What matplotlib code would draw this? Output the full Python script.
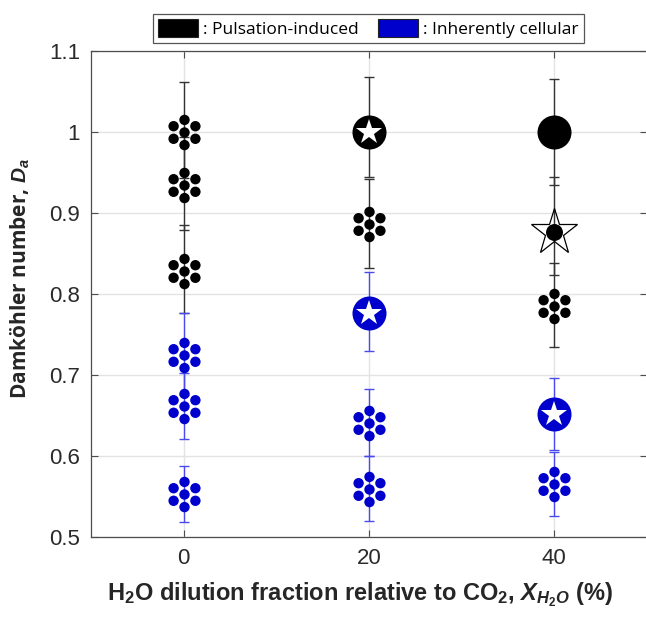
import numpy as np
import matplotlib
matplotlib.use("Agg")
import matplotlib.pyplot as plt
from matplotlib.path import Path
from matplotlib.patches import Patch

# ---------------- data ----------------
x_ticks = [0, 20, 40]
y_ticks = [0.5, 0.6, 0.7, 0.8, 0.9, 1.0, 1.1]
y_ticklabels = ["0.5", "0.6", "0.7", "0.8", "0.9", "1", "1.1"]

# Pulsation-induced (black) – cluster markers
puls_cl_x = [0, 0, 0, 20, 40]
puls_cl_y = [1.000, 0.934, 0.829, 0.887, 0.785]
puls_cl_lo = [0.057, 0.055, 0.053, 0.055, 0.051]
puls_cl_hi = [0.062, 0.060, 0.056, 0.055, 0.053]

# Pulsation-induced – filled circle with white star
puls_st_x = [20]
puls_st_y = [1.000]
puls_st_lo = [0.056]
puls_st_hi = [0.068]

# Pulsation-induced – large filled circle
puls_ci_x = [40]
puls_ci_y = [1.000]
puls_ci_lo = [0.066]
puls_ci_hi = [0.065]

# Pulsation-induced – open star with small filled circle
puls_os_x = [40]
puls_os_y = [0.877]
puls_os_lo = [0.053]
puls_os_hi = [0.067]

# Inherently cellular (blue) – cluster markers
cell_cl_x = [0, 0, 0, 20, 20, 40]
cell_cl_y = [0.725, 0.662, 0.553, 0.641, 0.559, 0.566]
cell_cl_lo = [0.050, 0.041, 0.034, 0.041, 0.039, 0.040]
cell_cl_hi = [0.051, 0.041, 0.035, 0.042, 0.041, 0.039]

# Inherently cellular – filled circle with white star
cell_st_x = [20, 40]
cell_st_y = [0.777, 0.652]
cell_st_lo = [0.047, 0.044]
cell_st_hi = [0.050, 0.044]

legend_labels = [": Pulsation-induced", ": Inherently cellular"]

# ---------------- style ----------------
BLACK = "#000000"
BLUE = "#0000CC"
EBLACK = "#333333"
EBLUE = "#4a4aee"

plt.rcParams["mathtext.fontset"] = "custom"
plt.rcParams["mathtext.it"] = "Liberation Sans:italic:bold"
plt.rcParams["mathtext.rm"] = "Liberation Sans:bold"
plt.rcParams["mathtext.bf"] = "Liberation Sans:bold"

# flower marker: centre dot + 6 dots around it
def flower_path():
    ring = 12.6
    rad = 5.2
    circles = [Path.circle((0, 0), rad)]
    for ang in np.deg2rad([90, 30, -30, -90, -150, 150]):
        circles.append(Path.circle((ring * np.cos(ang), ring * np.sin(ang)), rad))
    return Path.make_compound_path(*circles)

FLOWER = flower_path()
FLOWER_MS = 25.6

AX_L, AX_R = 91, 646.6
fig = plt.figure(figsize=(6.46, 6.22), dpi=100)
ax = fig.add_axes([AX_L / 646, 85 / 622, (AX_R - AX_L) / 646, (537 - 51) / 622])

ax.set_xlim(-10, 50)
ax.set_ylim(0.5, 1.1)
ax.set_xticks(x_ticks)
ax.set_xticklabels([str(v) for v in x_ticks])
ax.set_yticks(y_ticks)
ax.set_yticklabels(y_ticklabels)
ax.grid(True, color="#e3e3e3", linewidth=1.0, zorder=0)
ax.set_axisbelow(True)

for sp in ax.spines.values():
    sp.set_color("#4d4d4d")
    sp.set_linewidth(0.9)
ax.spines["right"].set_visible(False)
ax.tick_params(direction="in", length=5, width=0.8, color="#4d4d4d",
               top=True, right=True, labelsize=16, pad=8)
for lab in ax.get_xticklabels() + ax.get_yticklabels():
    lab.set_fontfamily("Liberation Sans")
    lab.set_color("#2a2a2a")

eb_kw = dict(fmt="none", elinewidth=1.0, capsize=3.6, capthick=1.0, zorder=2)

# error bars
ax.errorbar(puls_cl_x, puls_cl_y, yerr=[puls_cl_lo, puls_cl_hi], ecolor=EBLACK, **eb_kw)
ax.errorbar(puls_st_x, puls_st_y, yerr=[puls_st_lo, puls_st_hi], ecolor=EBLACK, **eb_kw)
ax.errorbar(puls_ci_x, puls_ci_y, yerr=[puls_ci_lo, puls_ci_hi], ecolor=EBLACK, **eb_kw)
ax.errorbar(puls_os_x, puls_os_y, yerr=[puls_os_lo, puls_os_hi], ecolor=EBLACK, **eb_kw)
ax.errorbar(cell_cl_x, cell_cl_y, yerr=[cell_cl_lo, cell_cl_hi], ecolor=EBLUE, **eb_kw)
ax.errorbar(cell_st_x, cell_st_y, yerr=[cell_st_lo, cell_st_hi], ecolor=EBLUE, **eb_kw)

# markers
ax.plot(puls_cl_x, puls_cl_y, linestyle="none", marker=FLOWER, markersize=FLOWER_MS,
        color=BLACK, markeredgewidth=0, zorder=3)
ax.plot(cell_cl_x, cell_cl_y, linestyle="none", marker=FLOWER, markersize=FLOWER_MS,
        color=BLUE, markeredgewidth=0, zorder=3)

ax.plot(puls_st_x, puls_st_y, linestyle="none", marker="o", markersize=24.5,
        color=BLACK, markeredgewidth=0, zorder=3)
ax.plot(puls_st_x, puls_st_y, linestyle="none", marker="*", markersize=19,
        color="white", markeredgewidth=0, zorder=4)
ax.plot(cell_st_x, cell_st_y, linestyle="none", marker="o", markersize=24.5,
        color=BLUE, markeredgewidth=0, zorder=3)
ax.plot(cell_st_x, cell_st_y, linestyle="none", marker="*", markersize=19,
        color="white", markeredgewidth=0, zorder=4)

ax.plot(puls_ci_x, puls_ci_y, linestyle="none", marker="o", markersize=24.5,
        color=BLACK, markeredgewidth=0, zorder=3)

ax.plot(puls_os_x, puls_os_y, linestyle="none", marker="*", markersize=35,
        markerfacecolor="none", markeredgecolor=BLACK, markeredgewidth=0.9, zorder=3)
ax.plot(puls_os_x, puls_os_y, linestyle="none", marker="o", markersize=12.2,
        color=BLACK, markeredgewidth=0, zorder=4)

# labels
ax.set_ylabel(r"Damköhler number, $D_a$", fontsize=15, fontweight="bold",
              fontfamily="Open Sans", color="#262626")
ax.yaxis.set_label_coords(-0.107, 0.531)
ax.set_xlabel(r"H$_\mathbf{2}$O dilution fraction relative to CO$_\mathbf{2}$, $X_{H_2O}$ (%)",
              fontsize=17, fontweight="bold", fontfamily="Liberation Sans",
              color="#262626")
ax.xaxis.set_label_coords((360 - AX_L) / (AX_R - AX_L), -0.09)

# legend
handles = [Patch(facecolor=BLACK, edgecolor="#222222", linewidth=0.8),
           Patch(facecolor=BLUE, edgecolor="#222222", linewidth=0.8)]
leg = ax.legend(handles, legend_labels, loc="lower center",
                bbox_to_anchor=((368.5 - AX_L) / (AX_R - AX_L), 1.0 + 8 / 486), ncol=2,
                frameon=True, fancybox=False, edgecolor="#555555", framealpha=1,
                prop={"family": "Open Sans", "size": 12.5},
                handlelength=2.3, handleheight=1.2, handletextpad=0.3,
                columnspacing=1.1, borderpad=0.3, borderaxespad=0)
leg.get_frame().set_linewidth(0.9)

fig.savefig("out.png", dpi=100)
